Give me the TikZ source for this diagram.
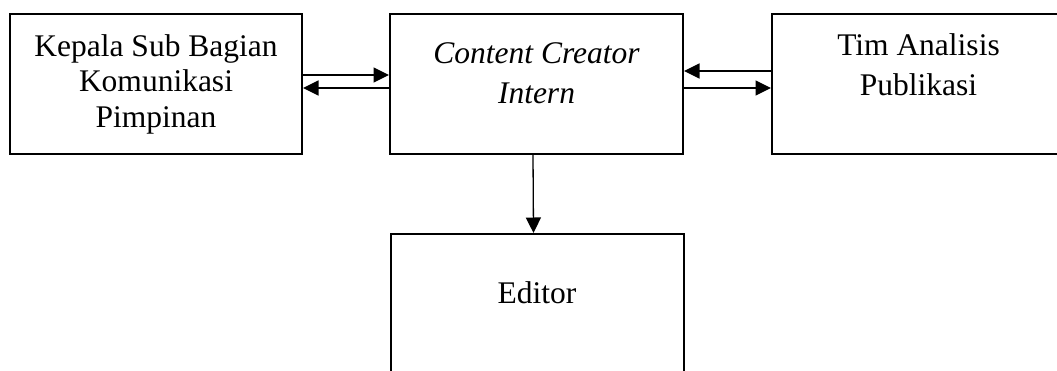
\documentclass[tikz,border=0pt]{standalone}
\usepackage{fontspec}
\setmainfont{Liberation Serif}
\usetikzlibrary{arrows.meta}
\usetikzlibrary{positioning}

\begin{document}
\begin{tikzpicture}[line cap=round,x=1pt,y=1pt,
  kotak/.style={draw,line width=2pt,minimum width=293pt,minimum height=140pt,inner sep=0pt},
  teks/.style={align=center,inner sep=0pt,font=\fontsize{31.5}{35.5}\selectfont},
  teksb/.style={align=center,inner sep=0pt,font=\fontsize{31.5}{40}\selectfont},
  miring/.style={teksb,font=\fontsize{31.5}{40}\selectfont\itshape},
  panah/.style={-{Triangle[length=15.5pt,width=15pt]},line width=1.3pt}]
\useasboundingbox (0,0) rectangle (1057,-370);
\clip (0,0) rectangle (1057,-370);
% kotak
\node[kotak,minimum width=292pt] (kasubag) at (156,-84) {};
\node[kotak] (cci) at (536.5,-84) {};
\node[kotak] (tim) at (918.5,-84) {};
\node[kotak] (editor) at (537,-304) {};
% teks
\node[teks] (kasubagtxt) at (kasubag) {Kepala Sub Bagian\\Komunikasi\\Pimpinan};
\node[miring] (ccitxt) at ([yshift=11pt]cci.center) {Content Creator\\Intern};
\node[teksb] (timtxt) at ([yshift=19.5pt]tim.center) {Tim Analisis\\Publikasi};
\node[teksb] (editortxt) at ([yshift=11pt]editor.center) {Editor};
% panah
\draw[panah] ([yshift=9pt]kasubag.east) -- ([yshift=9pt]cci.west);
\draw[panah] ([yshift=-4pt]cci.west) -- ([yshift=-4pt]kasubag.east);
\draw[panah] ([yshift=13pt]tim.west) -- ([yshift=13pt]cci.east);
\draw[panah] ([yshift=-4pt]cci.east) -- ([yshift=-4pt]tim.west);
\draw[panah] ([xshift=-3.5pt]cci.south) -- ([xshift=-3.5pt]editor.north);
\end{tikzpicture}
\end{document}
